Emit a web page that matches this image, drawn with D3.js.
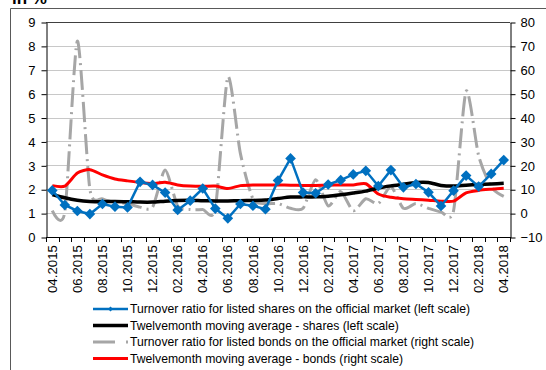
<!DOCTYPE html>
<html><head><meta charset="utf-8">
<script src="https://cdn.jsdelivr.net/npm/d3@7"></script>
<style>body{margin:0;background:#fff}svg{display:block}text{font-family:"Liberation Sans",Arial,sans-serif;fill:#000}</style>
</head><body><svg id="c" width="546" height="370"></svg>
<script>
const months = ["04.2015","05.2015","06.2015","07.2015","08.2015","09.2015","10.2015","11.2015","12.2015","01.2016","02.2016","03.2016","04.2016","05.2016","06.2016","07.2016","08.2016","09.2016","10.2016","11.2016","12.2016","01.2017","02.2017","03.2017","04.2017","05.2017","06.2017","07.2017","08.2017","09.2017","10.2017","11.2017","12.2017","01.2018","02.2018","03.2018","04.2018"];
const sharesTurnover = [1.95,1.34,1.09,0.96,1.38,1.27,1.24,2.31,2.18,1.86,1.13,1.52,2.03,1.19,0.78,1.38,1.31,1.16,2.36,3.29,1.86,1.83,2.20,2.38,2.62,2.77,2.13,2.80,2.08,2.22,1.87,1.30,1.94,2.57,2.11,2.64,3.22];
const sharesMA = [1.78,1.64,1.54,1.49,1.48,1.49,1.48,1.46,1.46,1.50,1.53,1.54,1.52,1.51,1.51,1.52,1.53,1.55,1.61,1.67,1.68,1.68,1.71,1.77,1.84,1.92,2.05,2.14,2.21,2.28,2.28,2.16,2.13,2.17,2.20,2.22,2.25];
const bondsTurnover = [1,0.5,72,10,6,4.5,4,2.5,2.5,18,3,1.5,1.5,2,57,25,6,4,4,2,2,14,3,9,1,6,4,11,2,4,2,0.5,1,51,24,11,7];
const bondsMA = [11.5,11.3,16.8,18.2,16.0,14.3,13.5,12.8,12.4,12.9,11.8,11.3,11.2,11.3,10.3,11.5,11.8,11.8,11.8,11.7,11.6,11.6,11.7,11.8,11.8,12.3,8.0,6.6,6.0,5.7,5.4,5.0,5.0,8.5,9.5,10.0,10.4];
const leftTicks = [0,1,2,3,4,5,6,7,8,9];
const rightTicks = [-10,0,10,20,30,40,50,60,70,80];
const legendLabels = ["Turnover ratio for listed shares on the official market (left scale)","Twelvemonth moving average - shares (left scale)","Turnover ratio for listed bonds on the official market (right scale)","Twelvemonth moving average - bonds (right scale)"];
const title = "in %";

const svg = d3.select("#c");
const L = 46, R = 510, T = 22, B = 237;
const x = d3.scaleBand().domain(months).range([L, R]).paddingInner(0).paddingOuter(0);
const xc = d => x(d) + x.bandwidth()/2;
const yL = d3.scaleLinear().domain([0,9]).range([B,T]);
const yR = d3.scaleLinear().domain([-10,80]).range([B,T]);

// frame
svg.append("path").attr("d","M10.5,370V8.5H546").attr("fill","none").attr("stroke","#595959").attr("stroke-width",1);
svg.append("text").attr("x",12).attr("y",4).attr("font-weight","bold").attr("font-size",17).attr("font-family","DejaVu Sans").text(title);

// gridlines
svg.append("g").selectAll("line").data(leftTicks.filter(v=>v>0&&v<9)).join("line")
  .attr("x1",L).attr("x2",R).attr("y1",d=>Math.round(yL(d))+0.5).attr("y2",d=>Math.round(yL(d))+0.5)
  .attr("stroke","#C8C8C8").attr("stroke-width",1.2);
svg.append("line").attr("x1",L).attr("x2",R).attr("y1",yL(9)+0.5).attr("y2",yL(9)+0.5).attr("stroke","#404040");

// axes
const gl = svg.append("g").attr("transform",`translate(${L+0.5},0.5)`)
  .call(d3.axisLeft(yL).tickValues(leftTicks).tickSize(5).tickSizeOuter(0).tickPadding(6));
gl.selectAll("text").attr("font-size",13).attr("font-family","Liberation Sans");
const gr = svg.append("g").attr("transform",`translate(${R+0.5},0.5)`)
  .call(d3.axisRight(yR).tickValues(rightTicks).tickSize(5).tickSizeOuter(0).tickPadding(5));
gr.selectAll("text").attr("font-size",13).attr("font-family","Liberation Sans");
svg.selectAll(".domain,.tick line").attr("stroke","#000");

svg.append("line").attr("x1",L).attr("x2",R+1).attr("y1",B+0.5).attr("y2",B+0.5).attr("stroke","#000");
const bounds = months.map(m=>x(m)).concat([R]);
svg.append("g").selectAll("line").data(bounds).join("line")
  .attr("x1",d=>Math.round(d)+0.5).attr("x2",d=>Math.round(d)+0.5).attr("y1",B).attr("y2",B+5).attr("stroke","#000");
svg.append("g").selectAll("text").data(months.filter((m,i)=>i%2===0)).join("text")
  .attr("transform",d=>`translate(${xc(d)},${B+8}) rotate(-90)`)
  .attr("text-anchor","end").attr("dy","0.35em").attr("font-size",13.3).text(d=>d);

const curve = d3.curveCardinal.tension(0.3);
const idx = d3.range(months.length);
svg.append("path").datum(idx).attr("fill","none").attr("stroke","#A6A6A6").attr("stroke-width",3)
  .attr("stroke-dasharray","20,5,2,5")
  .attr("d",d3.line().x(i=>xc(months[i])).y(i=>yR(bondsTurnover[i])).curve(curve));
svg.append("path").datum(idx).attr("fill","none").attr("stroke","#FF0000").attr("stroke-width",3)
  .attr("d",d3.line().x(i=>xc(months[i])).y(i=>yR(bondsMA[i])).curve(curve));
svg.append("path").datum(idx).attr("fill","none").attr("stroke","#000").attr("stroke-width",3.5)
  .attr("d",d3.line().x(i=>xc(months[i])).y(i=>yL(sharesMA[i])).curve(curve));
svg.append("path").datum(idx).attr("fill","none").attr("stroke","#0070C0").attr("stroke-width",2.5)
  .attr("d",d3.line().x(i=>xc(months[i])).y(i=>yL(sharesTurnover[i])));
const diamond = d3.symbol().type(d3.symbolDiamond2).size(72);
svg.append("g").selectAll("path").data(idx).join("path")
  .attr("transform",i=>`translate(${xc(months[i])},${yL(sharesTurnover[i])})`)
  .attr("d",diamond).attr("fill","#0070C0");

// legend
const ly = [309,325.5,342,358.5];
const lg = svg.append("g");
lg.append("line").attr("x1",93).attr("x2",128).attr("y1",ly[0]).attr("y2",ly[0]).attr("stroke","#0070C0").attr("stroke-width",2.5);
lg.append("path").attr("transform",`translate(110.5,${ly[0]})`).attr("d",d3.symbol().type(d3.symbolDiamond2).size(16)).attr("fill","#0070C0");
lg.append("line").attr("x1",93).attr("x2",128).attr("y1",ly[1]).attr("y2",ly[1]).attr("stroke","#000").attr("stroke-width",3.5);
lg.append("line").attr("x1",93).attr("x2",128).attr("y1",ly[2]).attr("y2",ly[2]).attr("stroke","#A6A6A6").attr("stroke-width",3).attr("stroke-dasharray","22,11,2,20");
lg.append("line").attr("x1",93).attr("x2",128).attr("y1",ly[3]).attr("y2",ly[3]).attr("stroke","#FF0000").attr("stroke-width",3);
lg.selectAll("text").data(legendLabels).join("text").attr("x",130).attr("y",(d,i)=>ly[i]).attr("dy","0.35em")
  .attr("font-size",12.2).text(d=>d);
</script></body></html>
